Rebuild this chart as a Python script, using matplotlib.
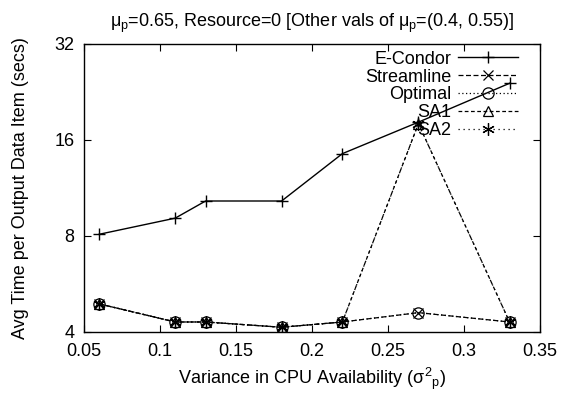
import matplotlib
matplotlib.use("Agg")
import matplotlib.pyplot as plt
from matplotlib.ticker import FixedLocator, FixedFormatter, NullLocator

plt.rcParams['font.family'] = ['Liberation Sans', 'DejaVu Sans']
plt.rcParams['mathtext.fontset'] = 'custom'
plt.rcParams['mathtext.rm'] = 'Liberation Sans'
plt.rcParams['mathtext.it'] = 'Liberation Sans'
plt.rcParams['mathtext.bf'] = 'Liberation Sans'

x = [0.06, 0.11, 0.13, 0.18, 0.22, 0.27, 0.33]
econdor = [8.1, 9.1, 10.3, 10.3, 14.5, 18.2, 24.1]
streamline = [4.9, 4.3, 4.3, 4.14, 4.3, 4.6, 4.3]
optimal = [4.9, 4.3, 4.3, 4.14, 4.3, 4.6, 4.3]
sa1 = [4.9, 4.3, 4.3, 4.14, 4.3, 18.0, 4.3]
sa2 = [4.9, 4.3, 4.3, 4.14, 4.3, 18.0, 4.3]

xticks = [0.05, 0.1, 0.15, 0.2, 0.25, 0.3, 0.35]
xticklabels = ['0.05', '0.1', '0.15', '0.2', '0.25', '0.3', '0.35']
yticks = [4, 8, 16, 32]
yticklabels = ['4', '8', '16', '32']

fig = plt.figure(figsize=(5.64, 3.99), dpi=100)
ax = fig.add_axes([84/564, 1-332/399, (540-84)/564, (332-44)/399])

fs = 13
ms = 9
ax.plot(x, econdor, color='black', lw=1.0, ls='-', marker='+', ms=ms, mew=1.0, label='E-Condor')
ax.plot(x, streamline, color='black', lw=0.9, ls=(0, (4, 2)), marker='x', ms=ms*0.8, mew=0.9, label='Streamline')
ax.plot(x, optimal, color='black', lw=0.9, ls=(0, (1, 2)), marker='o', ms=ms*0.9, mew=0.9, mfc='none', label='Optimal')
ax.plot(x, sa1, color='black', lw=0.9, ls=(0, (3, 2)), marker='^', ms=ms*0.85, mew=0.9, mfc='none', label='SA1')
ax.plot(x, sa2, color='black', lw=0.9, ls=(0, (1, 3)), marker=(6, 2, 0), ms=ms, mew=0.9, label='SA2')

ax.set_yscale('log', base=2)
ax.set_xlim(0.05, 0.35)
ax.set_ylim(4, 32)
ax.xaxis.set_major_locator(FixedLocator(xticks))
ax.xaxis.set_major_formatter(FixedFormatter(xticklabels))
ax.yaxis.set_major_locator(FixedLocator(yticks))
ax.yaxis.set_major_formatter(FixedFormatter(yticklabels))
ax.yaxis.set_minor_locator(NullLocator())
ax.xaxis.set_minor_locator(NullLocator())
ax.tick_params(direction='in', top=True, right=True, length=5, width=0.8, labelsize=fs)
ax.tick_params(axis='x', pad=8)
ax.tick_params(axis='y', pad=7)
for s in ax.spines.values():
    s.set_linewidth(1.0)

ax.set_xlabel(r'Variance in CPU Availability ($\sigma^2{}_p$)', fontsize=fs, labelpad=4)
ax.set_ylabel('Avg Time per Output Data Item (secs)', fontsize=fs, labelpad=18)
ax.set_title(r'$\mu_p$=0.65, Resource=0 [Other vals of $\mu_p$=(0.4, 0.55)]', fontsize=fs, pad=12)

leg = ax.legend(loc='upper right', bbox_to_anchor=((518-84)/456, 0.977), markerfirst=False, frameon=False,
                fontsize=fs, handlelength=3.3, handletextpad=0.4, labelspacing=0.05,
                borderaxespad=0, borderpad=0)

fig.savefig('out.png', dpi=100)
